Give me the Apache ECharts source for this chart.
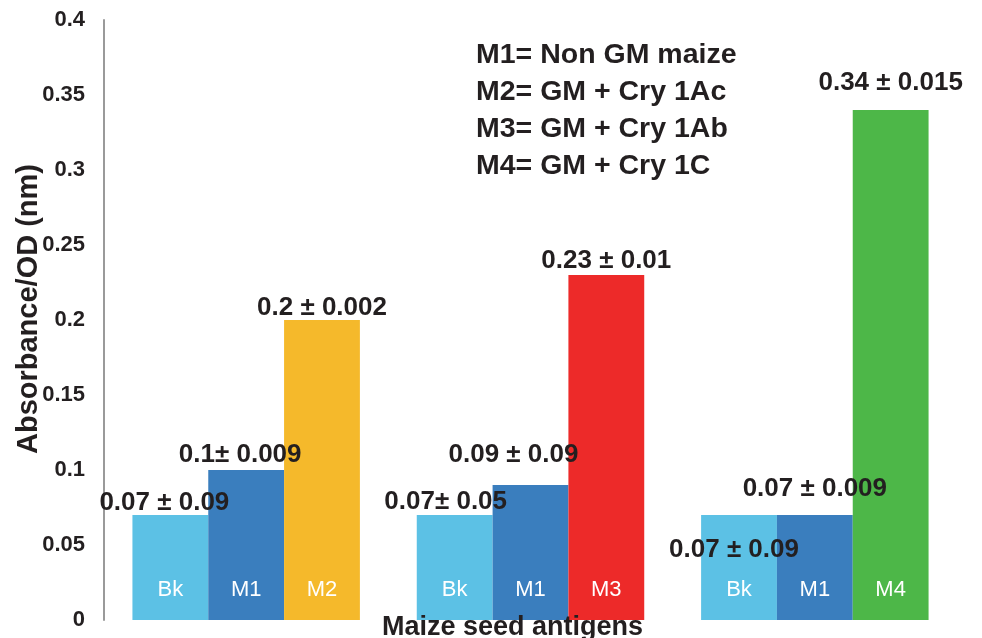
<!DOCTYPE html>
<html>
<head>
<meta charset="utf-8">
<script src="https://cdn.jsdelivr.net/npm/echarts@6/dist/echarts.min.js"></script>
<style>
html,body{margin:0;padding:0;background:#fff;}
#chart{width:982px;height:638px;}
</style>
</head>
<body>
<div id="chart"></div>
<script>
// ---- data ----
const groups = ['Group 1', 'Group 2', 'Group 3'];
const bkValues = [0.07, 0.07, 0.07];
const m1Values = [0.1, 0.09, 0.07];
const testValues = [0.2, 0.23, 0.34];
const testNames = ['M2', 'M3', 'M4'];
const bkLabels = ['0.07 ± 0.09', '0.07± 0.05', '0.07 ± 0.09'];
const m1Labels = ['0.1± 0.009', '0.09 ± 0.09', '0.07 ± 0.009'];
const testLabels = ['0.2 ± 0.002', '0.23 ± 0.01', '0.34 ± 0.015'];
const legendLines = ['M1= Non GM maize', 'M2= GM + Cry 1Ac', 'M3= GM + Cry 1Ab', 'M4= GM + Cry 1C'];
const yTicks = { min: 0, max: 0.4, interval: 0.05 };

// ---- styles ----
const FONT = "'Liberation Sans', Arial, Helvetica, sans-serif";
const colors = { Bk: '#5CC1E5', M1: '#3A7EBE', M2: '#F5B92B', M3: '#ED2A29', M4: '#4DB748' };
const bkOffsets = [[-6, 6], [-9, 5], [-5, 53]];
const m1Offsets = [[-6, 3], [-17, -12], [0, -8]];
const testOffsets = [[0, 6], [0, 4], [0, -9]];

const valueLabel = {
  show: true, position: 'top', distance: 5,
  fontFamily: FONT, fontSize: 26, fontWeight: 'bold', color: '#231f20'
};

function makeData(values, labels, offsets, colorsArr) {
  return values.map((v, i) => {
    const d = { value: v, label: Object.assign({}, valueLabel, { formatter: labels[i], offset: offsets[i] }) };
    if (colorsArr) d.itemStyle = { color: colorsArr[i] };
    return d;
  });
}

function innerNames(names) {
  return {
    symbol: 'rect', symbolSize: 0, silent: true, animation: false,
    label: {
      show: true, position: 'inside', offset: [0, -30],
      fontFamily: FONT, fontSize: 22, color: '#ffffff', formatter: p => p.name
    },
    data: names.map((n, i) => ({ name: n, coord: [i, 0] }))
  };
}

const chart = echarts.init(document.getElementById('chart'), null, { renderer: 'canvas' });
chart.setOption({
  animation: false,
  backgroundColor: '#ffffff',
  title: {
    text: legendLines.join('\n'),
    left: 476, top: 37, padding: 0,
    textStyle: { fontFamily: FONT, fontSize: 28.5, fontWeight: 'bold', color: '#231f20', lineHeight: 37 }
  },
  grid: { left: 104, right: 25, top: 20, bottom: 18, containLabel: false, outerBoundsMode: 'none' },
  xAxis: {
    type: 'category', data: groups, z: 10,
    axisLine: { show: false }, axisTick: { show: false }, axisLabel: { show: false },
    name: 'Maize seed antigens', nameLocation: 'middle', nameGap: 8, nameMoveOverlap: false,
    nameTextStyle: { fontFamily: FONT, fontSize: 27, fontWeight: 'bold', color: '#231f20',
      verticalAlign: 'middle', padding: [0, 36, 0, 0] }
  },
  yAxis: {
    type: 'value', min: yTicks.min, max: yTicks.max, interval: yTicks.interval,
    axisLine: { show: true, lineStyle: { color: '#9a9a9a', width: 2 } },
    axisTick: { show: false }, splitLine: { show: false },
    axisLabel: { margin: 19, fontFamily: FONT, fontSize: 22, fontWeight: 'bold', color: '#231f20' },
    name: 'Absorbance/OD (nm)', nameLocation: 'middle', nameGap: 75, nameRotate: 90, nameMoveOverlap: false,
    nameTextStyle: { fontFamily: FONT, fontSize: 29, fontWeight: 'bold', color: '#231f20',
      verticalAlign: 'middle', padding: [0, 0, 0, 22] }
  },
  series: [
    { name: 'Bk', type: 'bar', barGap: '0%', barCategoryGap: '20%',
      itemStyle: { color: colors.Bk },
      data: makeData(bkValues, bkLabels, bkOffsets),
      markPoint: innerNames(groups.map(() => 'Bk')) },
    { name: 'M1', type: 'bar', barGap: '0%', barCategoryGap: '20%',
      itemStyle: { color: colors.M1 },
      data: makeData(m1Values, m1Labels, m1Offsets),
      markPoint: innerNames(groups.map(() => 'M1')) },
    { name: 'Test', type: 'bar', barGap: '0%', barCategoryGap: '20%',
      data: makeData(testValues, testLabels, testOffsets, testNames.map(n => colors[n])),
      markPoint: innerNames(testNames) }
  ]
});
</script>
</body>
</html>
